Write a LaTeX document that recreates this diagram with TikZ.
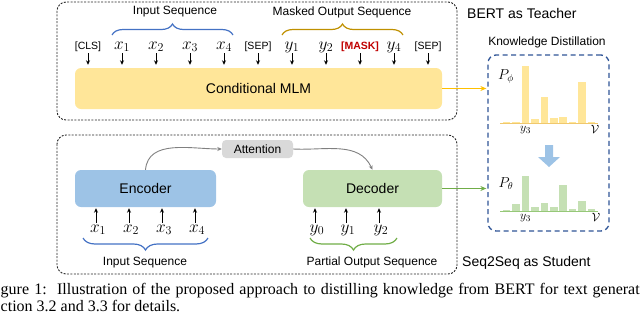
\documentclass[tikz,border=0pt]{standalone}
\usepackage[no-math]{fontspec}
\setmainfont{Liberation Sans}
\newfontfamily\capfont{Liberation Serif}
\usetikzlibrary{arrows.meta,decorations.pathreplacing,calc}
\definecolor{mlmfill}{RGB}{255,230,153}
\definecolor{encfill}{RGB}{157,195,230}
\definecolor{decfill}{RGB}{197,224,180}
\definecolor{attfill}{RGB}{217,217,217}
\definecolor{bracebl}{RGB}{68,114,196}
\definecolor{bracegold}{RGB}{191,144,0}
\definecolor{bracegr}{RGB}{112,173,71}
\definecolor{arrgold}{RGB}{255,192,0}
\definecolor{arrgr}{RGB}{112,173,71}
\definecolor{kdblue}{RGB}{47,85,151}
\definecolor{maskred}{RGB}{192,0,0}
\definecolor{axgold}{RGB}{240,200,110}
\definecolor{axgr}{RGB}{150,200,120}
\begin{document}
\begin{tikzpicture}[x=1pt,y=-1pt,
  dbox/.style={draw=black!85, dash pattern=on 2pt off 1.4pt, line width=0.9pt, rounded corners=9pt},
  blockbox/.style={rounded corners=6pt, draw=none, inner sep=0pt, font=\fontsize{14}{16}\selectfont},
  tok/.style={inner sep=0pt, anchor=base, text depth=4pt, text height=10pt},
  btok/.style={inner sep=0pt, anchor=base, text height=9pt},
  mtok/.style={font=\fontsize{17.28}{20}\selectfont},
  stok/.style={font=\fontsize{10.5}{12}\selectfont},
  lab/.style={inner sep=0pt, font=\fontsize{12}{14}\selectfont},
  biglab/.style={inner sep=0pt, font=\fontsize{14}{16}\selectfont},
  tokarr/.style={-{Stealth[length=4.5pt,width=4pt]}, line width=1pt, black},
  brc/.style={decorate, decoration={brace, amplitude=#1}, line width=1.2pt},
  attarr/.style={-{Stealth[length=4.5pt,width=4pt]}, line width=0.9pt, black!50},
  hlab/.style={inner sep=0pt, font=\fontsize{13}{15}\selectfont},
  captext/.style={inner sep=0pt, anchor=base west, font=\capfont\fontsize{16}{18}\selectfont}
]
\useasboundingbox (0,0) rectangle (640,322);

% ---------------- top: BERT as Teacher ----------------
\draw[dbox] (57,2) rectangle (457,120);
\node[blockbox, fill=mlmfill, minimum width=367pt, minimum height=41pt] (mlm) at (258.5,88.5) {Conditional MLM};

\node[tok, stok] (cls) at (88,49) {[CLS]};
\node[tok, mtok] (tx1) at (122,49) {$x_1$};
\node[tok, mtok] (tx2) at (156,49) {$x_2$};
\node[tok, mtok] (tx3) at (190,49) {$x_3$};
\node[tok, mtok] (tx4) at (224,49) {$x_4$};
\node[tok, stok] (sep1) at (258,49) {[SEP]};
\node[tok, mtok] (ty1) at (292,49) {$y_1$};
\node[tok, mtok] (ty2) at (326,49) {$y_2$};
\node[tok, stok, text=maskred, font=\fontsize{10.5}{12}\selectfont\bfseries] (mask) at (360,49) {[MASK]};
\node[tok, mtok] (ty4) at (394,49) {$y_4$};
\node[tok, stok] (sep2) at (428,49) {[SEP]};
\foreach \t in {cls,tx1,tx2,tx3,tx4,sep1,ty1,ty2,mask,ty4,sep2}
  \draw[tokarr, shorten >=3pt] (\t.south) -- (\t.south |- mlm.north);

\coordinate (ib1) at (112,35);
\coordinate (ib2) at (233,35);
\draw[brc=11pt, bracebl] (ib1) -- (ib2);
\node[lab] (inseq1) at (175,12) {Input Sequence};
\coordinate (mb1) at (282,35);
\coordinate (mb2) at (403,35);
\draw[brc=11pt, bracegold] (mb1) -- (mb2);
\node[lab] (maskseq) at (342,12) {Masked Output Sequence};

\node[biglab, anchor=west] (bertt) at (467,13) {BERT as Teacher};

% ---------------- bottom: Seq2Seq as Student ----------------
\draw[dbox] (57,135) rectangle (457,274);
\node[blockbox, fill=encfill, minimum width=141pt, minimum height=37pt] (enc) at (145.5,188.5) {Encoder};
\node[blockbox, fill=decfill, minimum width=139pt, minimum height=37pt] (dec) at (372.5,188.5) {Decoder};
\node[blockbox, fill=attfill, minimum width=71pt, minimum height=18pt, rounded corners=4pt, font=\fontsize{12}{14}\selectfont] (att) at (257.5,149) {Attention};
\draw[attarr] (enc.north) to[out=85,in=180] (att.west);
\draw[attarr] (att.east) to[out=-3,in=115] (dec.north);

\node[btok, mtok] (bx1) at (98,232) {$x_1$};
\node[btok, mtok] (bx2) at (131,232) {$x_2$};
\node[btok, mtok] (bx3) at (164,232) {$x_3$};
\node[btok, mtok] (bx4) at (197,232) {$x_4$};
\node[btok, mtok] (by0) at (317,232) {$y_0$};
\node[btok, mtok] (by1) at (348,232) {$y_1$};
\node[btok, mtok] (by2) at (381,232) {$y_2$};
\foreach \t in {bx1,bx2,bx3,bx4}
  \draw[tokarr, shorten >=1pt] ([xshift=-2pt]\t.north) -- ([xshift=-2pt]\t.north |- enc.south);
\foreach \t in {by0,by1,by2}
  \draw[tokarr, shorten >=1pt] ([xshift=-2pt]\t.north) -- ([xshift=-2pt]\t.north |- dec.south);

\coordinate (eb1) at (208,238);
\coordinate (eb2) at (83,238);
\draw[brc=12pt, bracebl] (eb1) -- (eb2);
\node[lab] (inseq2) at (145,262.5) {Input Sequence};
\coordinate (db1) at (397,238);
\coordinate (db2) at (310,238);
\draw[brc=12pt, bracegr] (db1) -- (db2);
\node[lab] (partseq) at (372,262.5) {Partial Output Sequence};

\node[biglab, anchor=west] (s2s) at (462,263) {Seq2Seq as Student};

% ---------------- knowledge distillation ----------------
\node[lab] (kdlab) at (547,42) {Knowledge Distillation};
\node[draw=kdblue, line width=1.3pt, dash pattern=on 5pt off 3.5pt, rounded corners=8pt,
      minimum width=121pt, minimum height=176pt, inner sep=0pt] (kd) at (548.5,143) {};

\draw[-{Stealth[length=6pt,width=5pt]}, line width=1.2pt, arrgold, shorten >=1pt] (mlm.east) -- (mlm.east -| kd.west);
\draw[-{Stealth[length=6pt,width=5pt]}, line width=1.2pt, arrgr, shorten >=1pt] (dec.east) -- (dec.east -| kd.west);

% top histogram
\foreach \i/\t in {0/122,1/122,2/65.7,3/119,4/97.3,5/118.3,6/116.7,7/122,8/82.3,9/122}
  \fill[mlmfill] (502.8+\i*9.44,123.3) rectangle (510.4+\i*9.44,\t);
\draw[axgold, line width=0.6pt] (500,123.5) -- (598,123.5);
\node[hlab, font=\fontsize{14.4}{16}\selectfont] (pphi) at (506,76.5) {$P_\phi$};
\node[hlab] (y3a) at (525.5,130) {$y_3$};
\node[hlab] (va) at (595,129) {$\mathcal{V}$};

% block arrow
\fill[encfill] (545,145) -- (553,145) -- (553,157) -- (560,157) -- (549,167) -- (538,157) -- (545,157) -- cycle;

% bottom histogram
\foreach \i/\t in {0/209.5,1/204,2/176,3/206.7,4/202.7,5/206.7,6/185,7/209,8/201,9/209}
  \fill[decfill] (502.8+\i*9.44,211.3) rectangle (510.4+\i*9.44,\t);
\draw[axgr, line width=0.6pt] (500,211.5) -- (598,211.5);
\node[hlab, font=\fontsize{14.4}{16}\selectfont] (pth) at (506,183.5) {$P_\theta$};
\node[hlab] (y3b) at (525.5,218.5) {$y_3$};
\node[hlab] (vb) at (596,217.5) {$\mathcal{V}$};

% ---------------- caption ----------------
\node[captext] (cap1) at (0.5,294)
  {\makebox[639pt][s]{gure 1:\ \ Illustration of the proposed approach to distilling knowledge from BERT for text generat}};
\node[captext] (cap2) at (0.5,311)
  {ction 3.2 and 3.3 for details.};
\end{tikzpicture}
\end{document}
